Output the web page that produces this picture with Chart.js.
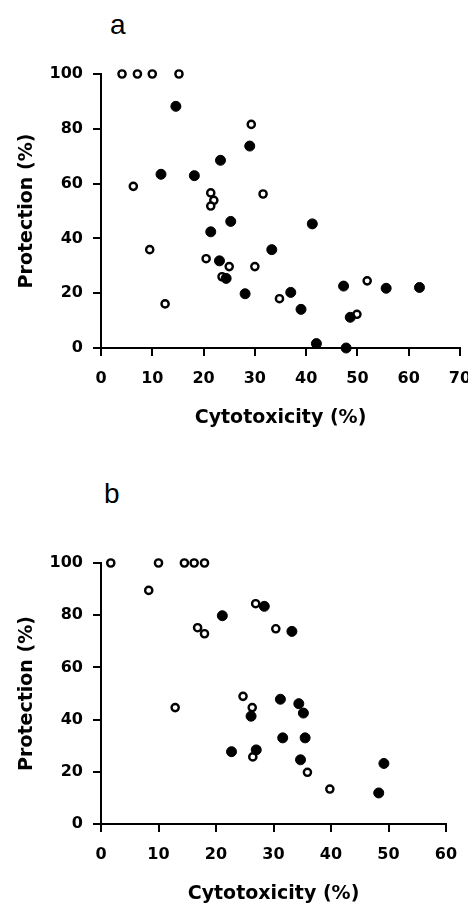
<!DOCTYPE html>
<html>
<head>
<meta charset="utf-8">
<script src="https://cdn.jsdelivr.net/npm/chart.js@4.4.0/dist/chart.umd.min.js"></script>
<style>
  html, body { margin: 0; padding: 0; background: #fff; overflow: hidden; width: 468px; height: 907px; }
  .panel { position: absolute; left: 0; }
  .letra { position: absolute; font-family: "Liberation Sans", Arial, sans-serif; font-size: 28px; line-height: 28px; color: #000; }
</style>
</head>
<body>
<div class="letra" style="left:110px; top:11px;">a</div>
<div class="letra" style="left:104px; top:480px;">b</div>
<canvas id="graficoA" class="panel" style="top:0px;" width="480" height="450"></canvas>
<canvas id="graficoB" class="panel" style="top:460px;" width="468" height="466"></canvas>
<script>
// painel a - círculos abertos e fechados
const aAbertoX = [4.1, 7.1, 10, 15.2, 29.3, 6.3, 21.4, 22, 21.4, 31.6, 9.5, 20.5, 25, 30, 23.6, 12.5, 34.8, 51.9, 49.9];
const aAbertoY = [100, 100, 100, 100, 81.6, 59, 56.6, 53.9, 51.8, 56.2, 35.9, 32.6, 29.7, 29.7, 26, 16.1, 18, 24.5, 12.3];
const aFechadoX = [14.6, 29, 23.3, 11.7, 18.2, 25.3, 21.4, 23.1, 24.4, 28.1, 33.3, 41.2, 37, 39, 42, 47.8, 47.3, 55.6, 62.1, 48.6];
const aFechadoY = [88.2, 73.7, 68.5, 63.4, 62.9, 46.2, 42.4, 31.8, 25.4, 19.8, 35.9, 45.3, 20.3, 14.1, 1.6, 0, 22.6, 21.8, 22.1, 11.2];

// painel b
const bAbertoX = [1.7, 10, 14.5, 16.2, 18, 8.3, 26.9, 16.8, 18, 30.4, 24.7, 26.3, 12.9, 26.4, 35.9, 39.8];
const bAbertoY = [100, 100, 100, 100, 100, 89.5, 84.4, 75.2, 72.9, 74.8, 48.9, 44.6, 44.6, 25.7, 19.8, 13.4];
const bFechadoX = [21.1, 28.4, 26.1, 22.7, 27, 33.2, 31.2, 34.4, 35.2, 31.6, 35.5, 34.7, 49.2, 48.3];
const bFechadoY = [79.8, 83.4, 41.3, 27.7, 28.4, 73.8, 47.8, 46.1, 42.5, 33, 33, 24.6, 23.2, 11.9];

const nomeEixoX = 'Cytotoxicity (%)';
const nomeEixoY = 'Protection (%)';

const fonteTicks = { family: 'DejaVu Sans', weight: 'bold', size: 16 };
const fonteTitulo = { family: 'DejaVu Sans', weight: 'bold', size: 19, lineHeight: 1.2 };

function pontos(xs, ys) {
  return xs.map((x, i) => ({ x, y: ys[i] }));
}

function criarGrafico(id, xs1, ys1, xs2, ys2, xMax, topo, direita, fundo, alturaCanvas) {
  const ctx = document.getElementById(id).getContext('2d');
  return new Chart(ctx, {
    type: 'scatter',
    data: {
      datasets: [
        {
          data: pontos(xs2, ys2),
          pointRadius: 5,
          pointBackgroundColor: '#000',
          pointBorderColor: '#000',
          pointBorderWidth: 1,
          clip: false
        },
        {
          data: pontos(xs1, ys1),
          pointRadius: 3.6,
          pointBackgroundColor: '#fff',
          pointBorderColor: '#000',
          pointBorderWidth: 2.4,
          clip: false
        }
      ]
    },
    options: {
      responsive: false,
      animation: false,
      layout: { padding: { left: 0, top: topo, right: direita, bottom: 0 } },
      plugins: { legend: { display: false }, tooltip: { enabled: false } },
      scales: {
        x: {
          type: 'linear', min: 0, max: xMax,
          border: { color: '#000', width: 2 },
          grid: { drawOnChartArea: false, drawTicks: true, tickLength: 8, color: '#000', lineWidth: 2 },
          ticks: { stepSize: 10, color: '#000', font: fonteTicks, padding: 13, maxRotation: 0, autoSkip: false },
          title: { display: true, text: nomeEixoX, color: '#000', font: fonteTitulo, padding: { top: 0, bottom: 21 } },
          afterFit: (s) => {
            s.height = alturaCanvas - fundo;
            // o último rótulo pode sair da área, como no original
            s.paddingLeft = 0;
            s.paddingRight = 0;
          }
        },
        y: {
          min: 0, max: 100,
          border: { color: '#000', width: 2 },
          grid: { drawOnChartArea: false, drawTicks: true, tickLength: 8, color: '#000', lineWidth: 2 },
          ticks: { stepSize: 20, color: '#000', font: fonteTicks, padding: 10 },
          title: { display: true, text: nomeEixoY, color: '#000', font: fonteTitulo, padding: { top: 16, bottom: 0 } },
          afterFit: (s) => { s.width = 101; }
        }
      }
    }
  });
}

criarGrafico('graficoA', aAbertoX, aAbertoY, aFechadoX, aFechadoY, 70, 74, 20, 348, 450);
criarGrafico('graficoB', bAbertoX, bAbertoY, bFechadoX, bFechadoY, 60, 103, 22, 364, 466);
</script>
</body>
</html>
